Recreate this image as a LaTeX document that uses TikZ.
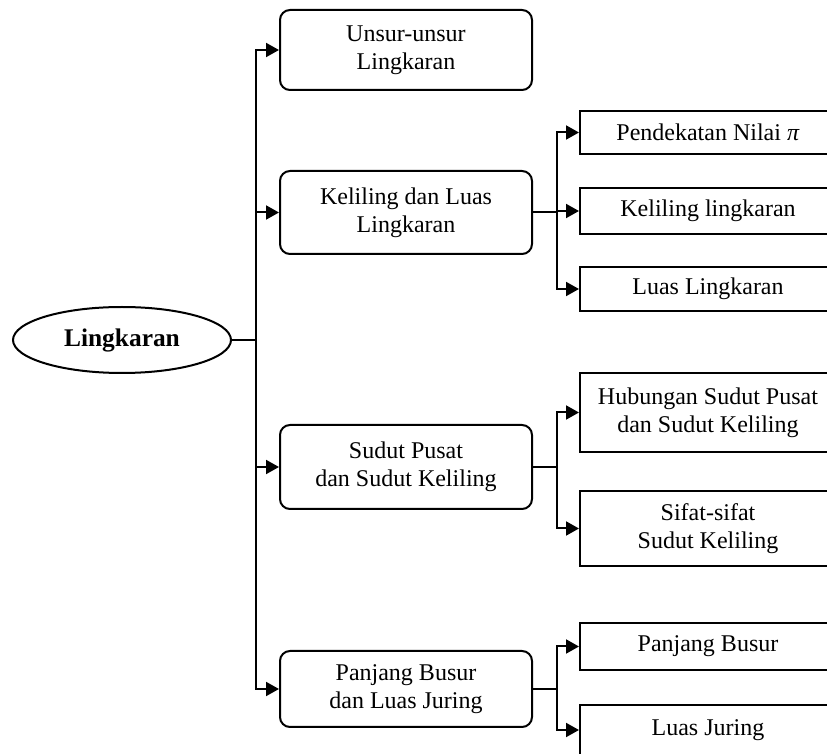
\documentclass[tikz,border=0pt]{standalone}
\usepackage{fontspec}
\setmainfont{Liberation Serif}
\usetikzlibrary{arrows.meta, positioning, shapes.geometric}

\begin{document}
\begin{tikzpicture}[x=0.5pt, y=-0.5pt, line width=1pt,
    topic/.style={rectangle, rounded corners=5pt, draw, minimum width=126pt, align=center, font=\fontsize{12}{13.8}\selectfont},
    subtopic/.style={rectangle, draw, minimum width=128pt, align=center, font=\fontsize{12}{13.8}\selectfont},
    link/.style={-{Triangle[length=6.5pt, width=7pt]}}]
    \path[use as bounding box, clip] (0,0) rectangle (827,754);

    % Root
    \node[ellipse, draw, minimum width=109pt, minimum height=33pt, inner sep=0pt, font=\fontsize{12.7}{15}\selectfont\bfseries] (root) at (122,340) {Lingkaran};

    % Main topics
    \node[topic, minimum height=40pt] (unsur) at (406,50) {Unsur-unsur\\Lingkaran};
    \node[topic, minimum height=41.5pt] (keliling) at (406,212.5) {Keliling dan Luas\\Lingkaran};
    \node[topic, minimum height=42pt] (sudut) at (406,467) {Sudut Pusat\\dan Sudut Keliling};
    \node[topic, minimum height=38pt] (busur) at (406,689) {Panjang Busur\\dan Luas Juring};

    \coordinate[right=12pt of root.east] (trunk);
    \draw (root.east) -- (trunk);
    \foreach \n in {unsur, keliling, sudut, busur}
        \draw[link] (trunk) |- (\n.west);

    % Keliling dan Luas
    \node[subtopic, minimum height=21.5pt] (pi) at (708,132.5) {Pendekatan Nilai \textit{π}};
    \node[subtopic, minimum height=23pt] (kell) at (708,211) {Keliling lingkaran};
    \node[subtopic, minimum height=22pt] (luasl) at (708,289) {Luas Lingkaran};
    \coordinate[right=12pt of keliling.east] (kj);
    \draw (keliling.east) -- (kj);
    \foreach \n in {pi, kell, luasl}
        \draw[link] (kj) |- (\n.west);

    % Sudut
    \node[subtopic, minimum height=39.5pt] (hub) at (708,412.5) {Hubungan Sudut Pusat\\dan Sudut Keliling};
    \node[subtopic, minimum height=37.5pt] (sifat) at (708,528.5) {Sifat-sifat\\Sudut Keliling};
    \coordinate[right=12pt of sudut.east] (sj);
    \draw (sudut.east) -- (sj);
    \foreach \n in {hub, sifat}
        \draw[link] (sj) |- (\n.west);

    % Busur dan Juring
    \node[subtopic, minimum height=23.5pt] (panjang) at (708,646.5) {Panjang Busur};
    \node[subtopic, minimum height=25pt] (juring) at (708,730) {Luas Juring};
    \coordinate[right=12pt of busur.east] (bj);
    \draw (busur.east) -- (bj);
    \foreach \n in {panjang, juring}
        \draw[link] (bj) |- (\n.west);
\end{tikzpicture}
\end{document}
